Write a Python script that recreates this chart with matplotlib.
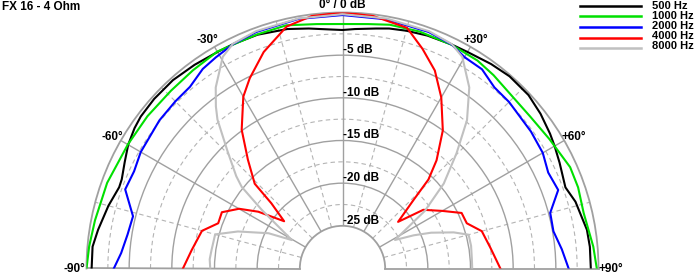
import matplotlib
matplotlib.use("Agg")
import matplotlib.pyplot as plt
from matplotlib.lines import Line2D
import numpy as np

plt.rcParams['font.family'] = ['Liberation Sans', 'DejaVu Sans']

# polar response, angle in degrees (negative = left), level in dB
ang_500 = [-90, -85, -81, -75, -70, -68, -64, -60, -56, -53, -48, -42, -36, -30, -26, -20, -13, -8, -3,
           0, 3, 8, 11, 15, 20, 26, 30, 36, 41, 47, 52, 57, 60, 64, 70, 74, 81, 85, 90]
db_500 = [-0.6, -0.6, -1.0, -1.6, -2.15, -2.1, -1.6, -1.0, -0.6, -0.4, -0.3, -0.3, -0.5, -0.7, -0.75, -0.85, -1.2, -1.6, -1.95,
          -2.05, -1.9, -1.6, -1.35, -1.15, -0.95, -0.8, -0.7, -0.38, -0.16, -0.2, -0.55, -1.0, -1.3, -1.7, -2.2, -1.6, -1.0, -0.9, -0.9]

ang_1000 = [-90, -85, -79, -70, -60, -52, -44, -37, -30, -26, -20, -13, -6, 0, 6, 11, 18, 26, 33, 38, 43, 51, 58, 66, 71, 77, 85, 90]
db_1000 = [0.0, -0.2, -0.45, -0.65, -0.95, -1.0, -1.05, -0.9, -0.65, -0.8, -0.8, -0.75, -1.2, -1.35, -1.2, -0.9, -0.8, -0.83,
           -0.95, -1.25, -1.6, -1.7, -1.4, -0.8, -0.8, -1.0, -0.5, -0.2]

ang_2000 = [-90, -86, -81, -76, -70, -65, -60, -51, -45, -40, -35, -31, -26, -20, -10, 0, 10, 20, 26, 30, 35, 40, 45, 54,
            60, 65, 70, 75, 80, 85, 90]
db_2000 = [-3.2, -4.0, -4.5, -4.7, -2.9, -3.05, -2.7, -2.4, -2.3, -2.2, -1.45, -1.15, -0.75, -0.5, -0.3, -0.3, -0.35, -0.5,
           -0.8, -1.4, -1.5, -2.3, -2.4, -2.7, -2.9, -3.4, -3.1, -4.8, -4.9, -4.2, -3.5]

ang_4000 = [-90, -83, -75, -70, -65, -60, -56, -51, -47.5, -46, -41, -36, -30, -26, -20, -13, -7, 0, 7, 15, 20, 25, 30, 36,
            41, 44, 46, 50, 54, 60, 65, 70, 75, 82, 90]
db_4000 = [-11.3, -12.2, -12.95, -14.5, -14.4, -16.0, -18.1, -21.2, -18.7, -15.7, -13.1, -9.9, -6.75, -5.2, -3.0, -0.9, -0.2,
           0.0, -0.2, -0.8, -2.6, -4.4, -6.85, -10.0, -13.2, -15.5, -18.4, -21.5, -18.3, -16.5, -14.6, -14.5, -13.1, -12.5, -11.5]

ang_8000 = [-90, -86, -82, -75, -70.5, -64.5, -60.7, -54, -51, -49, -44.5, -40, -38, -35, -29.5, -26, -20, -10, 0, 10, 20,
            26, 29.5, 35, 40, 44.7, 50, 55, 61.5, 65, 68, 72, 75, 80, 86, 90]
db_8000 = [-14.5, -14.4, -14.5, -14.55, -17.0, -20.4, -23.2, -18.3, -14.8, -13.5, -10.8, -7.2, -5.9, -4.1, -1.5, -0.7, -0.4,
           -0.25, -0.2, -0.25, -0.4, -0.75, -1.5, -4.1, -7.3, -11.0, -14.5, -18.2, -23.0, -20.8, -18.8, -16.3, -14.7, -14.7,
           -14.8, -14.8]

series = [
    ("500 Hz", ang_500, db_500, "#000000"),
    ("1000 Hz", ang_1000, db_1000, "#00e000"),
    ("2000 Hz", ang_2000, db_2000, "#0000ff"),
    ("4000 Hz", ang_4000, db_4000, "#ff0000"),
    ("8000 Hz", ang_8000, db_8000, "#c0c0c0"),
]

ring_major = [-20, -15, -10, -5]
ring_minor = [-22.5, -17.5, -12.5, -7.5, -2.5]
spoke_major = [-60, -30, 0, 30, 60]
spoke_minor = [-75, -45, -15, 15, 45, 75]
db_labels = [-5, -10, -15, -20, -25]

fig = plt.figure(figsize=(7, 2.75), dpi=100)
# square box (equal aspect); the half disc sits in its middle band
ax = fig.add_axes([86.5 / 700, -121.5 / 275, 512 / 700, 512 / 275], projection='polar')
ax.set_theta_zero_location('N')
ax.set_theta_direction(-1)
ax.set_thetamin(-90)
ax.set_thetamax(90)
ax.set_rorigin(-30)
ax.set_ylim(-25, 0)

grid_col = "#a0a0a0"
ax.set_rgrids(ring_major, labels=[''] * len(ring_major))
ax.set_thetagrids(spoke_major, labels=[''] * len(spoke_major))
ax.grid(True, color=grid_col, lw=1.0, ls='-')
ax.tick_params(length=0)
for sp in ax.spines.values():
    sp.set_color(grid_col)
    sp.set_linewidth(1.3)

# dashed minor grid
t = np.radians(np.linspace(-90, 90, 361))
for r in ring_minor:
    ax.plot(t, np.full_like(t, r), color="#b4b4b4", lw=0.8, ls=(0, (4, 3)), zorder=1)
for a in spoke_minor:
    ax.plot([np.radians(a)] * 2, [-25, 0], color="#b4b4b4", lw=0.8, ls=(0, (4, 3)), zorder=1)

for label, ang, db, col in series:
    ax.plot(np.radians(ang), db, color=col, lw=1.5, zorder=3)

tk = dict(fontsize=8.5, fontweight='bold', textcoords='offset points', annotation_clip=False)
for d in db_labels:
    ax.annotate(f"{d} dB", xy=(0, d), xytext=(0.5, -0.5), ha='left', va='bottom', zorder=4, **tk)
ax.annotate("0° / 0 dB", xy=(0, 0), xytext=(0, 1), ha='center', va='bottom', **tk)
ax.annotate("-30°", xy=(np.radians(-30), 0), xytext=(3, 0.5), ha='right', va='bottom', **tk)
ax.annotate("+30°", xy=(np.radians(30), 0), xytext=(-5, 0.5), ha='left', va='bottom', **tk)
ax.annotate("-60°", xy=(np.radians(-60), 0), xytext=(2, -1.5), ha='right', va='bottom', **tk)
ax.annotate("+60°", xy=(np.radians(60), 0), xytext=(-2, -1.5), ha='left', va='bottom', **tk)
ax.annotate("-90°", xy=(np.radians(-90), 0), xytext=(-1, -2.3), ha='right', va='baseline', **tk)
ax.annotate("+90°", xy=(np.radians(90), 0), xytext=(0, -2.3), ha='left', va='baseline', **tk)

fig.text(2 / 700, 1 - 7 / 275, "FX 16 - 4 Ohm", fontsize=8.5, fontweight='bold', ha='left', va='center')

# legend, top right
for i, (label, ang, db, col) in enumerate(series):
    y_line = 1 - (5.7 + i * 10.6) / 275
    y_text = 1 - (6 + i * 9.9) / 275
    fig.add_artist(Line2D([580 / 700, 641 / 700], [y_line, y_line], color=col, lw=1.8))
    fig.text(652 / 700, y_text, label, fontsize=8, fontweight='bold', ha='left', va='center')

fig.savefig("out.png", dpi=100)
